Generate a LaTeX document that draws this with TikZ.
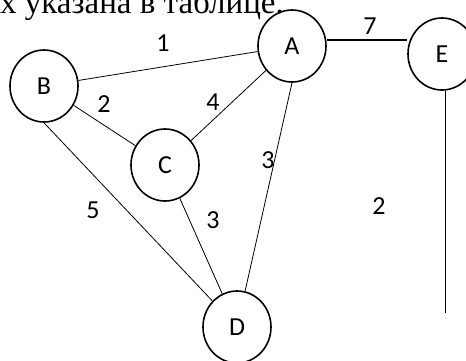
\documentclass[tikz,border=0pt]{standalone}
\usepackage{fontspec}
\setmainfont{Liberation Serif}
\newfontfamily\lblfont{Carlito}
\usetikzlibrary{shapes.geometric}
\begin{document}
\begin{tikzpicture}[x=1pt,y=-1pt,
  vert/.style={draw,line width=1.6pt,ellipse,minimum width=68pt,minimum height=72pt,inner sep=0pt,font=\lblfont\fontsize{26}{26}\selectfont},
  edge/.style={line width=0.8pt},
  thick edge/.style={line width=2pt},
  wlabel/.style={font=\lblfont\fontsize{26}{26}\selectfont,inner sep=0pt}]
\useasboundingbox (0,0) rectangle (466,360);
\clip (0,0) rectangle (466,360);
\node[anchor=base west,inner sep=0pt,font=\fontsize{33}{33}\selectfont] (title) at (0,13) {х указана в таблице.};
\node[vert] (B) at (44,86) {B};
\node[vert] (A) at (292,46) {A};
\node[vert] (E) at (442,54) {E};
\node[vert] (C) at (165,165) {C};
\node[vert] (D) at (237,327) {D};
\coordinate (Eend) at (445,313);
\draw[edge] (B) -- (A);
\draw[thick edge] (A.east |- 0,40) -- (E.west |- 0,40);
\draw[edge] (B) -- (C);
\draw[edge] (C) -- (A);
\draw[edge] (B.south) -- (D);
\draw[edge] (C) -- (D);
\draw[edge] (A.south) -- (D);
\draw[edge] (E.south -| Eend) -- (Eend);
\node[wlabel] (l1) at (163,43) {1};
\node[wlabel] (l7) at (370,26) {7};
\node[wlabel] (l2) at (104,104) {2};
\node[wlabel] (l4) at (213,102) {4};
\node[wlabel] (l5) at (93,210) {5};
\node[wlabel] (l3a) at (213,220) {3};
\node[wlabel] (l3b) at (268,160) {3};
\node[wlabel] (l2b) at (379,206) {2};
\end{tikzpicture}
\end{document}
